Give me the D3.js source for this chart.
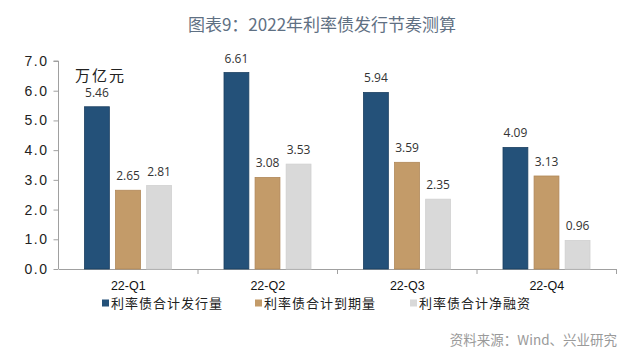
<!DOCTYPE html>
<html>
<head>
<meta charset="utf-8">
<script src="https://cdn.jsdelivr.net/npm/d3@7"></script>
<style>
  html, body { margin: 0; padding: 0; background: #fff; }
  svg { display: block; }
</style>
</head>
<body>
<svg id="chart" width="640" height="357"></svg>
<script>
const categories = ["22-Q1", "22-Q2", "22-Q3", "22-Q4"];
const seriesNames = ["利率债合计发行量", "利率债合计到期量", "利率债合计净融资"];
const issuance = [5.46, 6.61, 5.94, 4.09];
const maturity = [2.65, 3.08, 3.59, 3.13];
const netFinancing = [2.81, 3.53, 2.35, 0.96];
const yTicks = [0, 1, 2, 3, 4, 5, 6, 7];
const colors = ["#245179", "#c39b69", "#d9d9d9"];
const strokes = ["#1b3f60", "#b08757", "#d0d0d0"];

const seriesValues = [issuance, maturity, netFinancing];
const svg = d3.select("#chart");
const cjk = "'Noto Sans CJK SC', 'Noto Sans', sans-serif";
const latin = "'Liberation Sans', Arial, sans-serif";

const x0 = d3.scaleBand().domain(categories).range([58.5, 616.5]).padding(0);
const x1 = d3.scaleBand().domain(d3.range(3)).range([26, 113]).paddingInner(0.2);
const y = d3.scaleLinear().domain([0, 7]).range([269, 61]);

// title
svg.append("text")
  .attr("x", 322).attr("y", 31)
  .attr("text-anchor", "middle")
  .attr("font-family", cjk)
  .attr("font-size", 17)
  .attr("fill", "#5f7083")
  .text("图表9：2022年利率债发行节奏测算");

// y axis
const yAxis = d3.axisLeft(y).tickValues(yTicks).tickSize(5).tickPadding(5)
  .tickFormat(d3.format(".1f"));
const gy = svg.append("g").attr("transform", "translate(58.5,0)").call(yAxis);
gy.select(".domain").attr("stroke", "#a0a0a0").attr("d", "M-5," + y(7) + "H0V" + y(0));
gy.selectAll(".tick line").attr("stroke", "#a0a0a0");
gy.selectAll(".tick text")
  .attr("font-family", latin)
  .attr("font-size", 14)
  .attr("letter-spacing", "1.5px")
  .attr("fill", "#222");

// x axis
const xAxis = d3.axisBottom(x0).tickSize(0).tickPadding(12);
const gx = svg.append("g").attr("transform", "translate(0," + y(0) + ")").call(xAxis);
gx.select(".domain").attr("stroke", "#a0a0a0");
gx.selectAll(".tick text")
  .attr("font-family", latin)
  .attr("font-size", 12.5)
  .attr("fill", "#111");
// boundary ticks
const bounds = categories.map(c => x0(c)).concat([x0.range()[1]]);
gx.selectAll(".bound").data(bounds.slice(1)).enter().append("line")
  .attr("x1", d => d).attr("x2", d => d)
  .attr("y1", 0).attr("y2", 5)
  .attr("stroke", "#a0a0a0");

// unit label
svg.append("text")
  .attr("x", 75).attr("y", 81)
  .attr("font-family", cjk)
  .attr("font-size", 15)
  .attr("letter-spacing", "2px")
  .attr("fill", "#222")
  .text("万亿元");

// bars
const groups = svg.append("g").selectAll("g")
  .data(categories).enter().append("g")
  .attr("transform", d => "translate(" + x0(d) + ",0)");

groups.selectAll("rect")
  .data((c, i) => seriesValues.map((s, k) => ({ k, v: s[i] })))
  .enter().append("rect")
  .attr("x", d => x1(d.k))
  .attr("width", x1.bandwidth())
  .attr("y", d => y(d.v))
  .attr("height", d => y(0) - y(d.v))
  .attr("fill", d => colors[d.k])
  .attr("stroke", d => strokes[d.k])
  .attr("stroke-width", 0.8);

groups.selectAll("text.val")
  .data((c, i) => seriesValues.map((s, k) => ({ k, v: s[i] })))
  .enter().append("text")
  .attr("class", "val")
  .attr("x", d => x1(d.k) + x1.bandwidth() / 2)
  .attr("y", d => y(d.v) - 10)
  .attr("text-anchor", "middle")
  .attr("font-family", "'Open Sans', sans-serif")
  .attr("font-size", 12)
  .attr("fill", "#333")
  .text(d => d3.format(".2f")(d.v));

// legend
const legendX = [102, 255, 410];
const lg = svg.append("g").selectAll("g").data(seriesNames).enter().append("g")
  .attr("transform", (d, i) => "translate(" + legendX[i] + ",303)");
lg.append("rect").attr("x", 0).attr("y", -3.5).attr("width", 7).attr("height", 7)
  .attr("fill", (d, i) => colors[i]);
lg.append("text").attr("x", 9).attr("y", 5)
  .attr("font-family", cjk)
  .attr("font-size", 13)
  .attr("letter-spacing", "1px")
  .attr("fill", "#222")
  .text(d => d);

// source
svg.append("text")
  .attr("x", 617).attr("y", 345)
  .attr("text-anchor", "end")
  .attr("font-family", cjk)
  .attr("font-size", 13.5)
  .attr("fill", "#9a9a9a")
  .text("资料来源：Wind、兴业研究");
</script>
</body>
</html>
